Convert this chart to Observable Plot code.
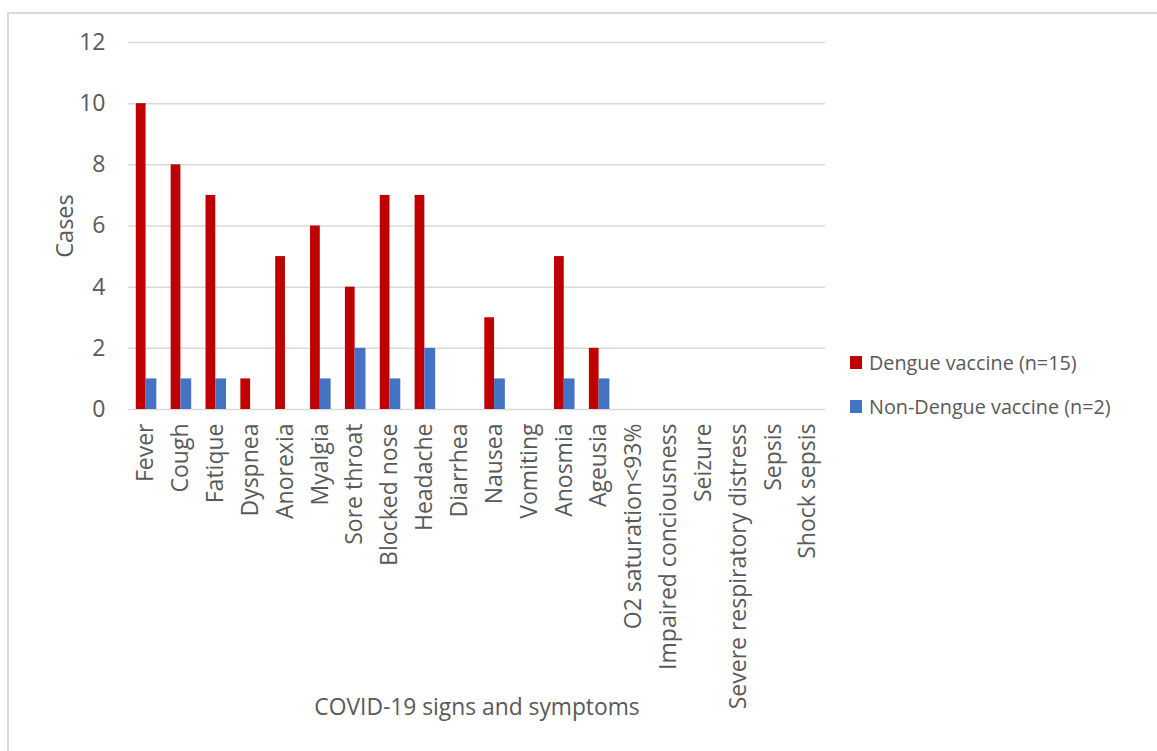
<!DOCTYPE html>
<html>
<head>
<meta charset="utf-8">
<script src="https://cdn.jsdelivr.net/npm/d3@7"></script>
<script src="https://cdn.jsdelivr.net/npm/@observablehq/plot@0.6"></script>
<style>
  html, body { margin: 0; padding: 0; background: #fff; }
  #wrap { position: relative; width: 1157px; height: 751px; overflow: hidden; font-family: "Open Sans", sans-serif; }
  #frame { position: absolute; left: 7px; top: 12px; right: -10px; bottom: -10px; border-left: 2px solid #d9d9d9; border-top: 2px solid #d9d9d9; }
  #chart { position: absolute; left: 0; top: 0; }
  #chart svg text { font-size: 23px; font-family: "Open Sans", sans-serif; }
  #chart svg g[aria-label="x-axis label"] text { font-size: 22.8px; }
  #chart svg g[aria-label="y-axis label"] text { font-size: 23.5px; }
  #legend { position: absolute; left: 850px; top: 347px; color: #595959; font-size: 19.8px; }
  .item { display: flex; align-items: center; height: 30px; margin-bottom: 14px; }
  .sw { width: 12px; height: 13px; margin-right: 7px; }
</style>
</head>
<body>
<div id="wrap">
  <div id="frame"></div>
  <div id="chart"></div>
  <div id="legend"></div>
</div>
<script>
const symptoms = ["Fever","Cough","Fatique","Dyspnea","Anorexia","Myalgia","Sore throat","Blocked nose","Headache","Diarrhea","Nausea","Vomiting","Anosmia","Ageusia","O2 saturation<93%","Impaired conciousness","Seizure","Severe respiratory distress","Sepsis","Shock sepsis"];
const dengue    = [10,8,7,1,5,6,4,7,7,0,3,0,5,2,0,0,0,0,0,0];
const nonDengue = [1,1,1,0,0,1,2,1,2,0,1,0,1,1,0,0,0,0,0,0];
const seriesNames = ["Dengue vaccine (n=15)", "Non-Dengue vaccine (n=2)"];
const seriesColors = ["#C00000", "#4472C4"];
const yTicks = [0,2,4,6,8,10,12];

const table = symptoms.map((s, i) => ({symptom: s, dengue: dengue[i], nonDengue: nonDengue[i]}));

const chart = Plot.plot({
  width: 1157,
  height: 751,
  marginLeft: 128,
  marginRight: 332,
  marginTop: 42,
  marginBottom: 342,
  style: {fontFamily: "Open Sans", fontSize: "23px", color: "#595959", background: "transparent", overflow: "visible"},
  x: {domain: symptoms, padding: 0, round: false, tickRotate: -90, tickSize: 0, tickPadding: 14,
      label: "COVID-19 signs and symptoms", labelAnchor: "center", labelOffset: 305, labelArrow: "none"},
  y: {domain: [0, 12], ticks: yTicks, tickSize: 0, tickPadding: 23,
      label: "Cases", labelAnchor: "center", labelOffset: 72, labelArrow: "none"},
  marks: [
    Plot.ruleY(yTicks, {stroke: "#d9d9d9", strokeWidth: 1.5}),
    Plot.barY(table, {x: "symptom", y: "dengue", fill: seriesColors[0], insetLeft: 7.8, insetRight: 17.3}),
    Plot.barY(table, {x: "symptom", y: "nonDengue", fill: seriesColors[1], insetLeft: 17.55, insetRight: 6.5})
  ]
});
document.getElementById("chart").appendChild(chart);

const legend = document.getElementById("legend");
seriesNames.forEach((name, i) => {
  const row = document.createElement("div");
  row.className = "item";
  const sw = document.createElement("span");
  sw.className = "sw";
  sw.style.background = seriesColors[i];
  const t = document.createElement("span");
  t.textContent = name;
  row.appendChild(sw); row.appendChild(t);
  legend.appendChild(row);
});
</script>
</body>
</html>
